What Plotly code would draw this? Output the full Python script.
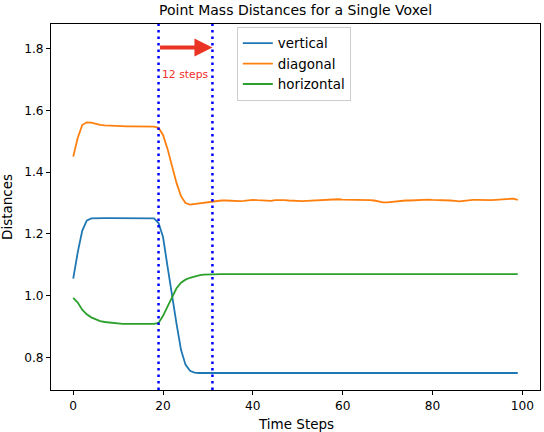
import plotly.graph_objects as go

steps = list(range(100))

vertical = [
    1.055, 1.14, 1.21, 1.243, 1.25, 1.251, 1.251, 1.251, 1.251, 1.251,
    1.251, 1.251, 1.251, 1.251, 1.251, 1.251, 1.251, 1.251, 1.25, 1.235,
    1.19, 1.095, 0.995, 0.91, 0.825, 0.777, 0.757, 0.751, 0.75, 0.75,
] + [0.75] * 70

diagonal = [
    1.45, 1.51, 1.552, 1.561, 1.56, 1.556, 1.553, 1.551, 1.55, 1.549,
    1.548, 1.548, 1.548, 1.548, 1.548, 1.548, 1.548, 1.548, 1.547, 1.543,
    1.52, 1.475, 1.42, 1.365, 1.322, 1.30, 1.295, 1.297, 1.30, 1.302,
    1.304, 1.306, 1.307, 1.308, 1.308, 1.307, 1.306, 1.306, 1.307, 1.309,
    1.31, 1.309, 1.308, 1.307, 1.307, 1.309, 1.31, 1.309, 1.308, 1.307,
    1.306, 1.306, 1.307, 1.308, 1.309, 1.31, 1.311, 1.312, 1.312, 1.312,
    1.311, 1.311, 1.31, 1.31, 1.309, 1.309, 1.309, 1.308, 1.305, 1.302,
    1.302, 1.304, 1.306, 1.307, 1.308, 1.308, 1.309, 1.311, 1.312, 1.311,
    1.31, 1.31, 1.309, 1.309, 1.308, 1.307, 1.305, 1.307, 1.309, 1.31,
    1.31, 1.309, 1.309, 1.309, 1.31, 1.311, 1.313, 1.315, 1.314, 1.31,
]

horizontal = [
    0.993, 0.978, 0.955, 0.94, 0.93, 0.923, 0.918, 0.915, 0.913, 0.911,
    0.91, 0.909, 0.909, 0.909, 0.909, 0.909, 0.909, 0.909, 0.909, 0.912,
    0.935, 0.965, 0.997, 1.024, 1.042, 1.052, 1.058, 1.063, 1.066, 1.068,
    1.069, 1.069, 1.07, 1.07, 1.07, 1.07, 1.07, 1.07, 1.07, 1.071,
    1.071, 1.071, 1.071, 1.071, 1.071, 1.071, 1.071, 1.071, 1.071, 1.071,
    1.071, 1.071, 1.071, 1.071, 1.071, 1.071, 1.071, 1.071, 1.071, 1.071,
    1.071, 1.071, 1.071, 1.07, 1.07, 1.07, 1.07, 1.069, 1.069, 1.069,
    1.07, 1.07, 1.07, 1.07, 1.07, 1.07, 1.07, 1.07, 1.07, 1.07,
    1.07, 1.07, 1.07, 1.07, 1.07, 1.07, 1.07, 1.07, 1.07, 1.07,
    1.07, 1.07, 1.07, 1.07, 1.07, 1.07, 1.07, 1.07, 1.07, 1.07,
]

start_step = 19
end_step = 31
arrow_y = 1.803
label_y = 1.716

font = "DejaVu Sans"

fig = go.Figure()
fig.add_trace(go.Scatter(x=steps, y=vertical, mode="lines", name="vertical",
                         line=dict(color="#1f77b4", width=1.8)))
fig.add_trace(go.Scatter(x=steps, y=diagonal, mode="lines", name="diagonal",
                         line=dict(color="#ff7f0e", width=1.8)))
fig.add_trace(go.Scatter(x=steps, y=horizontal, mode="lines", name="horizontal",
                         line=dict(color="#2ca02c", width=1.8)))

for s in (start_step, end_step):
    fig.add_shape(type="line", x0=s, x1=s, y0=0, y1=1, xref="x", yref="paper",
                  line=dict(color="blue", width=2.5, dash="2.5px,4px"))

# red arrow spanning the two markers
fig.add_annotation(x=end_step, y=arrow_y, ax=start_step, ay=arrow_y,
                   xref="x", yref="y", axref="x", ayref="y",
                   text="", showarrow=True, arrowhead=2, arrowsize=0.9,
                   arrowwidth=4, arrowcolor="#ea3323")
fig.add_annotation(x=(start_step + end_step) / 2, y=label_y, xref="x", yref="y",
                   text=f"{end_step - start_step} steps", showarrow=False,
                   font=dict(family=font, size=10.8, color="#f0302a"))

# axis titles and title placed in paper space
fig.add_annotation(x=0.5, y=-0.093, xref="paper", yref="paper", yanchor="middle",
                   text="Time Steps", showarrow=False,
                   font=dict(family=font, size=13.5, color="black"))
fig.add_annotation(x=-0.09, y=0.5, xref="paper", yref="paper", xanchor="center",
                   text="Distances", textangle=-90, showarrow=False,
                   font=dict(family=font, size=13.5, color="black"))
fig.add_annotation(x=0.5, y=1.038, xref="paper", yref="paper", yanchor="middle",
                   text="Point Mass Distances for a Single Voxel",
                   showarrow=False, font=dict(family=font, size=14, color="black"))

axis_style = dict(showline=True, linecolor="black", linewidth=1, mirror=True,
                  ticks="outside", ticklen=4, tickcolor="black", showgrid=False,
                  zeroline=False, automargin=False,
                  tickfont=dict(family=font, size=12.2, color="black"))

fig.update_layout(
    width=544, height=432,
    margin=dict(l=51, r=4, t=24, b=42),
    plot_bgcolor="white", paper_bgcolor="white",
    xaxis=dict(range=[-4.95, 103.95], tickvals=[0, 20, 40, 60, 80, 100], **axis_style),
    yaxis=dict(range=[0.695, 1.879], tickvals=[0.8, 1.0, 1.2, 1.4, 1.6, 1.8],
               tickformat=".1f", **axis_style),
    legend=dict(x=0.38, y=0.992, xanchor="left", yanchor="top",
                bgcolor="white", bordercolor="#cccccc", borderwidth=1,
                font=dict(family=font, size=13.4, color="black"),
                tracegroupgap=0),
    showlegend=True,
)

# drop the page's default body margin so the figure sits at the window corner
fig.write_html("out.html", config={"displayModeBar": False},
               post_script="document.body.style.margin='0';")
